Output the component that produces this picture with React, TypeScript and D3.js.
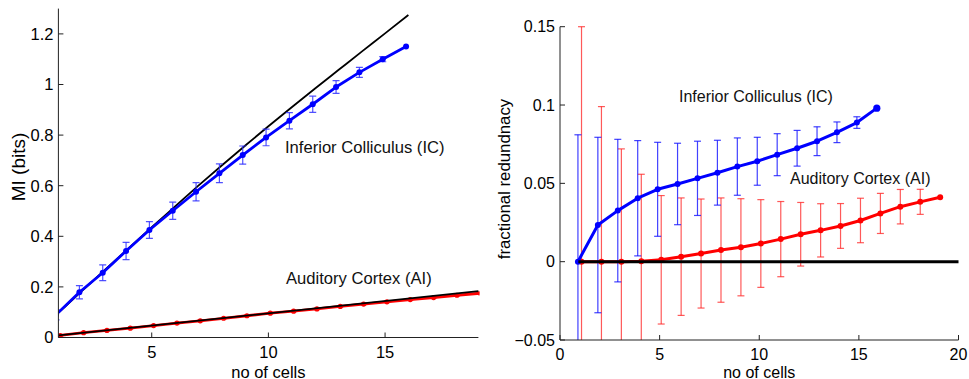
import React from "react";
import * as d3 from "d3";

// ---------- data ----------
const icCells = [1, 2, 3, 4, 5, 6, 7, 8, 9, 10, 11, 12, 13, 14, 15, 16];
const icMI = [0.09, 0.179, 0.256, 0.342, 0.425, 0.501, 0.576, 0.649, 0.721, 0.791, 0.857, 0.922, 0.99, 1.048, 1.1, 1.15];
const icMIErr = [0.02, 0.026, 0.031, 0.034, 0.033, 0.034, 0.036, 0.037, 0.036, 0.033, 0.032, 0.032, 0.025, 0.02, 0.01, 0];
const icLinear = [0.098, 0.183, 0.268, 0.352, 0.436, 0.518, 0.6, 0.68, 0.758, 0.835, 0.91, 0.984, 1.057, 1.13, 1.202, 1.275];

const aiCells = [1, 2, 3, 4, 5, 6, 7, 8, 9, 10, 11, 12, 13, 14, 15, 16, 17, 18, 19];
const aiMI = [0.008, 0.019, 0.028, 0.037, 0.047, 0.057, 0.066, 0.076, 0.086, 0.096, 0.104, 0.113, 0.123, 0.132, 0.141, 0.15, 0.158, 0.167, 0.175];
const aiMIErr = [0.003, 0.003, 0.003, 0.003, 0.003, 0.003, 0.003, 0.003, 0.003, 0.003, 0.003, 0.003, 0.003, 0.003, 0.003, 0.003, 0.003, 0.003, 0];
const aiLinearCells = [1, 19];
const aiLinear = [0.008, 0.183];

const icRedund = [0, 0.0234, 0.0326, 0.0405, 0.0462, 0.0496, 0.0532, 0.0568, 0.0607, 0.0641, 0.0683, 0.0724, 0.0769, 0.0826, 0.0888, 0.098];
const icRedundErr = [0.081, 0.056, 0.0455, 0.0368, 0.03, 0.026, 0.0237, 0.0207, 0.0183, 0.0153, 0.0134, 0.0114, 0.0092, 0.0066, 0.0037, 0];
const aiRedund = [0, 0, 0, 0.0002, 0.0012, 0.0032, 0.0052, 0.0074, 0.0092, 0.0116, 0.0144, 0.0175, 0.02, 0.0228, 0.0263, 0.0308, 0.0351, 0.0382, 0.0411];
const aiRedundErr = [0.15, 0.099, 0.072, 0.0556, 0.041, 0.0375, 0.0348, 0.0333, 0.031, 0.028, 0.024, 0.0203, 0.017, 0.0143, 0.0142, 0.0128, 0.011, 0.008, 0];
const zeroLineCells = [0.92, 20];
const zeroLine = [0, 0];

const IC_OFFSET = -0.1;
const AI_OFFSET = 0.08;

const leftXTicks = [5, 10, 15];
const leftYTicks = [0, 0.2, 0.4, 0.6, 0.8, 1, 1.2];
const rightXTicks = [0, 5, 10, 15, 20];
const rightYTicks = [-0.05, 0, 0.05, 0.1, 0.15];

const FONT = "'Liberation Sans', Arial, Helvetica, sans-serif";
const BLUE = "#0000ff";
const RED = "#ff0000";

function fmt(v: number) {
  const s = String(Math.round(v * 1000) / 1000);
  return s.replace("-", "\u2212");
}

type Scale = d3.ScaleLinear<number, number>;

function Axes({ x, y, xTicks, yTicks, xLabel, yLabel, yLabelX, yLabelY, fs, yfs, tickDy, xLabelY }: {
  x: Scale; y: Scale; xTicks: number[]; yTicks: number[]; xLabel: string; yLabel: string;
  yLabelX: number; yLabelY: number; fs: number; yfs: number; tickDy: number; xLabelY: number;
}) {
  const [x0, x1] = x.range();
  const [y0, y1] = y.range();
  const tl = 5;
  return (
    <g fontFamily={FONT} fontSize={fs} fill="#000">
      <line x1={x0} x2={x0} y1={y0} y2={y1} stroke="#222" strokeWidth={1} />
      <line x1={x0} x2={x1} y1={y0} y2={y0} stroke="#222" strokeWidth={1} />
      {yTicks.map((t) => (
        <g key={"y" + t}>
          <line x1={x0} x2={x0 + tl} y1={y(t)} y2={y(t)} stroke="#222" />
          <text x={x0 - 5} y={y(t)} dy="0.36em" textAnchor="end">{fmt(t)}</text>
        </g>
      ))}
      {xTicks.map((t) => (
        <g key={"x" + t}>
          <line x1={x(t)} x2={x(t)} y1={y0} y2={y0 - tl} stroke="#222" />
          <text x={x(t)} y={y0 + tickDy} textAnchor="middle">{fmt(t)}</text>
        </g>
      ))}
      <text x={(x0 + x1) / 2} y={xLabelY} textAnchor="middle">{xLabel}</text>
      <text transform={`translate(${yLabelX},${yLabelY}) rotate(-90)`} textAnchor="middle" fontSize={yfs}>{yLabel}</text>
    </g>
  );
}

function Series({ x, y, cells, vals, errs, offset, color, width, r, errColor, errOpacity, cap, lastR }: {
  x: Scale; y: Scale; cells: number[]; vals: number[]; errs: number[]; offset: number; color: string;
  width: number; r: number; errColor: string; errOpacity: number; cap: number; lastR?: number;
}) {
  const pts = cells.map((c, i) => [c + offset, vals[i]] as [number, number]);
  const line = d3.line<[number, number]>().x((d) => x(d[0])).y((d) => y(d[1]));
  return (
    <g>
      {pts.map((p, i) =>
        errs[i] > 0 ? (
          <g key={"e" + i} stroke={errColor} strokeOpacity={errOpacity} strokeWidth={1.2}>
            <line x1={x(p[0])} x2={x(p[0])} y1={y(p[1] - errs[i])} y2={y(p[1] + errs[i])} />
            <line x1={x(p[0]) - cap} x2={x(p[0]) + cap} y1={y(p[1] + errs[i])} y2={y(p[1] + errs[i])} />
            <line x1={x(p[0]) - cap} x2={x(p[0]) + cap} y1={y(p[1] - errs[i])} y2={y(p[1] - errs[i])} />
          </g>
        ) : null
      )}
      <path d={line(pts) || ""} fill="none" stroke={color} strokeWidth={width} strokeLinejoin="round" />
      {pts.map((p, i) => (
        <circle key={"c" + i} cx={x(p[0])} cy={y(p[1])} r={i === pts.length - 1 && lastR ? lastR : r} fill={color} />
      ))}
    </g>
  );
}

function PlainLine({ x, y, cells, vals, color, width }: { x: Scale; y: Scale; cells: number[]; vals: number[]; color: string; width: number }) {
  const pts = cells.map((c, i) => [c, vals[i]] as [number, number]);
  const line = d3.line<[number, number]>().curve(d3.curveMonotoneX).x((d) => x(d[0])).y((d) => y(d[1]));
  return <path d={line(pts) || ""} fill="none" stroke={color} strokeWidth={width} />;
}

export default function App() {
  const xL = d3.scaleLinear().domain([1, 19]).range([58.4, 478.4]);
  const yL = d3.scaleLinear().domain([0, 1.3]).range([337.5, 8.6]);
  const xR = d3.scaleLinear().domain([0, 20]).range([560, 958.5]);
  const yR = d3.scaleLinear().domain([-0.05, 0.15]).range([340, 26.7]);

  return (
    <svg width={969} height={379} style={{ position: "absolute", left: 0, top: 0, background: "#fff" }}>
      <defs>
        <clipPath id="clipL">
          <rect x={58.4} y={0} width={421} height={337.5} />
        </clipPath>
        <clipPath id="clipR">
          <rect x={560} y={24} width={400} height={316} />
        </clipPath>
      </defs>
      <rect x={0} y={0} width={969} height={379} fill="#fff" />

      {/* Left panel */}
      <g clipPath="url(#clipL)">
        <PlainLine x={xL} y={yL} cells={icCells} vals={icLinear} color="#000" width={1.8} />
        <Series x={xL} y={yL} cells={icCells} vals={icMI} errs={icMIErr} offset={IC_OFFSET} color={BLUE}
          width={2.8} r={3} errColor="#3333ff" errOpacity={0.85} cap={3.5} />
        <Series x={xL} y={yL} cells={aiCells} vals={aiMI} errs={aiMIErr} offset={AI_OFFSET} color={RED}
          width={2.8} r={2.6} errColor="#ff5555" errOpacity={0.7} cap={3} />
        <PlainLine x={xL} y={yL} cells={aiLinearCells} vals={aiLinear} color="#000" width={1.8} />
      </g>
      <Axes x={xL} y={yL} xTicks={leftXTicks} yTicks={leftYTicks} xLabel="no of cells" yLabel="MI (bits)"
        yLabelX={25} yLabelY={167} fs={16.5} yfs={19} tickDy={20} xLabelY={377.5} />
      <g fontFamily={FONT} fontSize={16.6} fill="#111">
        <text x={285} y={153}>Inferior Colliculus (IC)</text>
        <text x={286} y={283.5}>Auditory Cortex (AI)</text>
      </g>

      {/* Right panel */}
      <g clipPath="url(#clipR)">
        <Series x={xR} y={yR} cells={aiCells} vals={aiRedund} errs={aiRedundErr} offset={AI_OFFSET} color={RED}
          width={3} r={3} errColor="#ff2222" errOpacity={0.75} cap={3.5} />
        <Series x={xR} y={yR} cells={icCells} vals={icRedund} errs={icRedundErr} offset={IC_OFFSET} color={BLUE}
          width={3} r={3} errColor="#1111ff" errOpacity={0.8} cap={3.5} lastR={3.6} />
        <PlainLine x={xR} y={yR} cells={zeroLineCells} vals={zeroLine} color="#000" width={3} />
      </g>
      <Axes x={xR} y={yR} xTicks={rightXTicks} yTicks={rightYTicks} xLabel="no of cells" yLabel="fractional redundnacy"
        yLabelX={510} yLabelY={179} fs={16} yfs={16.8} tickDy={19.5} xLabelY={377.5} />
      <g fontFamily={FONT} fontSize={16} fill="#111">
        <text x={679} y={102}>Inferior Colliculus (IC)</text>
        <text x={790} y={184}>Auditory Cortex (AI)</text>
      </g>
    </svg>
  );
}
